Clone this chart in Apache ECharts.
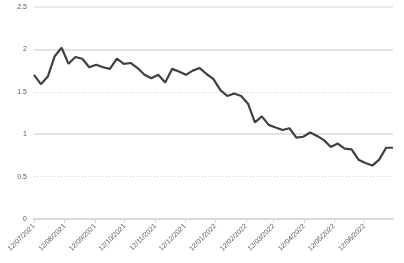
<!DOCTYPE html>
<html>
<head>
<meta charset="utf-8">
<script src="https://cdn.jsdelivr.net/npm/echarts@6/dist/echarts.min.js"></script>
<style>
html,body{margin:0;padding:0;background:#fff;}
#chart{width:404px;height:263px;}
</style>
</head>
<body>
<div id="chart"></div>
<script>
var weeks = [
  '12/07/2021','19/07/2021','26/07/2021','02/08/2021','09/08/2021','16/08/2021','23/08/2021','30/08/2021',
  '06/09/2021','13/09/2021','20/09/2021','27/09/2021','04/10/2021','11/10/2021','18/10/2021','25/10/2021',
  '01/11/2021','08/11/2021','15/11/2021','22/11/2021','29/11/2021','06/12/2021','13/12/2021','20/12/2021',
  '27/12/2021','03/01/2022','10/01/2022','17/01/2022','24/01/2022','31/01/2022','07/02/2022','14/02/2022',
  '21/02/2022','28/02/2022','07/03/2022','14/03/2022','21/03/2022','28/03/2022','04/04/2022','11/04/2022',
  '18/04/2022','25/04/2022','02/05/2022','09/05/2022','16/05/2022','23/05/2022','30/05/2022','06/06/2022',
  '13/06/2022','20/06/2022','27/06/2022','04/07/2022','11/07/2022'
];
var values = [
  1.70,1.59,1.68,1.92,2.02,1.83,1.91,1.89,
  1.79,1.82,1.79,1.77,1.89,1.83,1.84,1.78,
  1.70,1.66,1.70,1.61,1.77,1.74,1.70,1.75,
  1.78,1.71,1.65,1.52,1.45,1.48,1.45,1.36,
  1.14,1.21,1.11,1.08,1.05,1.07,0.96,0.97,
  1.02,0.98,0.93,0.85,0.89,0.83,0.82,0.70,
  0.66,0.63,0.70,0.84,0.84
];
var tickLabels = [
  '12/07/2021','12/08/2021','12/09/2021','12/10/2021','12/11/2021','12/12/2021',
  '12/01/2022','12/02/2022','12/03/2022','12/04/2022','12/05/2022','12/06/2022'
];
var yTicks = [0, 0.5, 1, 1.5, 2, 2.5];

function parseDMY(s){
  var p = s.split('/');
  return Date.UTC(+p[2], +p[1]-1, +p[0]);
}
function pad(n){ return (n<10?'0':'')+n; }
function fmt(ts){
  var d = new Date(ts);
  return pad(d.getUTCDate())+'/'+pad(d.getUTCMonth()+1)+'/'+d.getUTCFullYear();
}
var seriesData = weeks.map(function(w,i){ return [parseDMY(w), values[i]]; });
var tickTs = tickLabels.map(parseDMY);

var chart = echarts.init(document.getElementById('chart'), null, {renderer:'canvas'});
chart.setOption({
  animation:false,
  backgroundColor:'#ffffff',
  grid:{left:34, right:11, top:7, bottom:44, containLabel:false},
  xAxis:{
    type:'value',
    scale:true,
    min: parseDMY(weeks[0]),
    max: parseDMY(weeks[weeks.length-1]),
    axisLine:{show:true, onZero:false, lineStyle:{color:'#d9d9d9', width:2}},
    axisTick:{show:true, customValues: tickTs, length:4, lineStyle:{color:'#d9d9d9', width:1}},
    splitLine:{show:false},
    axisLabel:{
      customValues: tickTs,
      rotate:45,
      margin:6,
      fontSize:7,
      fontFamily:'Liberation Sans, Arial, sans-serif',
      color:'#595959',
      formatter:function(v){ return fmt(v); }
    }
  },
  yAxis:[{
    type:'value',
    min:yTicks[0], max:yTicks[yTicks.length-1], interval:0.5,
    axisLine:{show:false}, axisTick:{show:false},
    splitLine:{show:true, lineStyle:{color:'#cfcfcf', width:1, type:[1,2]}},
    axisLabel:{
      margin:7, fontSize:7, color:'#595959',
      fontFamily:'Liberation Sans, Arial, sans-serif',
      formatter:function(v){ return String(v); }
    }
  },{
    type:'value',
    min:yTicks[0], max:yTicks[yTicks.length-1], interval:1,
    position:'left',
    axisLine:{show:false}, axisTick:{show:false}, axisLabel:{show:false},
    splitLine:{show:true, lineStyle:{color:['#e3e3e3','#e3e3e3','#e3e3e3','#ebebeb'], width:2}}
  }],
  series:[{
    type:'line',
    yAxisIndex:0,
    data:seriesData,
    showSymbol:false,
    symbol:'none',
    lineStyle:{color:'#404040', width:2.2},
    z:5
  }]
});
</script>
</body>
</html>
